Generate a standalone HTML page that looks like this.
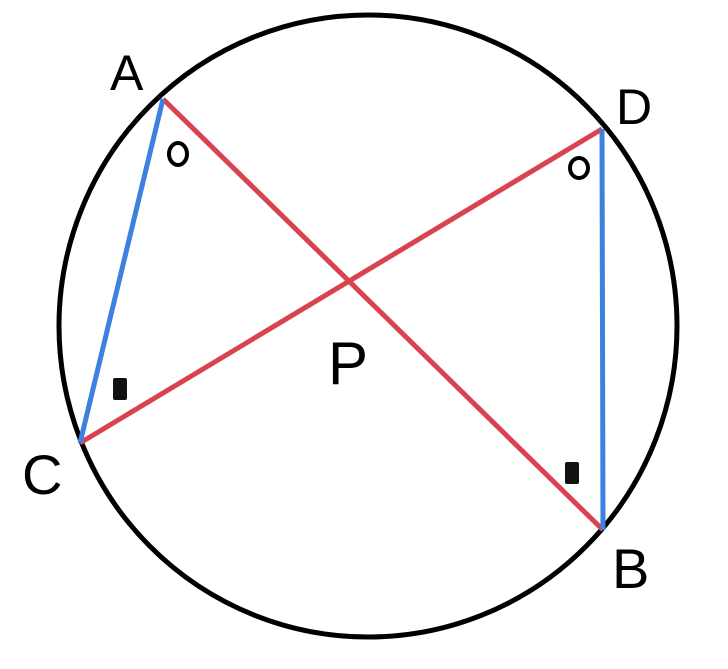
<!DOCTYPE html>
<html><head><style>html,body{margin:0;padding:0;background:#fff;}</style></head>
<body>
<svg width="728" height="664" viewBox="0 0 728 664" xmlns="http://www.w3.org/2000/svg">
<ellipse cx="368" cy="326" rx="309" ry="311" fill="none" stroke="#000" stroke-width="5"/>
<line x1="163" y1="99" x2="603" y2="530" stroke="#d9434f" stroke-width="5"/>
<line x1="80" y1="443" x2="602" y2="129" stroke="#d9434f" stroke-width="5"/>
<line x1="163" y1="99" x2="80" y2="443" stroke="#3d80e0" stroke-width="5"/>
<line x1="602" y1="129" x2="603" y2="530" stroke="#3d80e0" stroke-width="5"/>
<ellipse cx="178" cy="154" rx="9" ry="11" fill="none" stroke="#000" stroke-width="4"/>
<ellipse cx="579" cy="168" rx="9" ry="10" fill="none" stroke="#000" stroke-width="4"/>
<rect x="113" y="378" width="14" height="22" fill="#111" rx="2"/>
<rect x="565" y="462" width="14" height="22" fill="#111" rx="2"/>
<g font-family="Liberation Sans, sans-serif" fill="#000" font-weight="300">
<text x="110" y="90" font-size="50">A</text>
<text x="616" y="124" font-size="50">D</text>
<text x="22" y="494" font-size="56">C</text>
<text x="612" y="588" font-size="56">B</text>
<text x="328" y="384" font-size="60">P</text>
</g>
</svg>
</body></html>
